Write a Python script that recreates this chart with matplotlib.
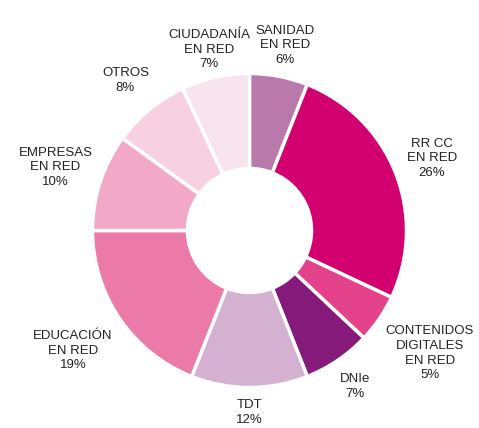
import numpy as np
import matplotlib.pyplot as plt

# data, clockwise from 12 o'clock
categories = ['SANIDAD\nEN RED', 'RR CC\nEN RED', 'CONTENIDOS\nDIGITALES\nEN RED', 'DNIe',
              'TDT', 'EDUCACIÓN\nEN RED', 'EMPRESAS\nEN RED', 'OTROS', 'CIUDADANÍA\nEN RED']
shares = [6, 26, 5, 7, 12, 19, 10, 8, 7]
colors = ['#b97aab', '#d3006f', '#e5428c', '#861a7b', '#d5b1d1',
          '#ec7aa8', '#f2a9c7', '#f7d1e2', '#f8e4ee']

# layout (pixels)
W, H = 479, 428
cx, cy = 249.5, H - 230.5
radius = 157
hole = 62
label_dist = [1.20, 1.25, 1.39, 1.20, 1.16, 1.36, 1.30, 1.24, 1.18]

plt.rcParams['font.family'] = ['Liberation Sans', 'DejaVu Sans']

fig = plt.figure(figsize=(W / 100, H / 100), dpi=100)
ax = fig.add_axes([0, 0, 1, 1])

wedges, _ = ax.pie(shares, colors=colors, startangle=90, counterclock=False,
                   center=(cx, cy), radius=radius,
                   wedgeprops=dict(width=radius - hole, edgecolor='white', linewidth=2.5))

# labels centred on each wedge's mid angle
total = sum(shares)
cum = np.cumsum([0] + shares[:-1])
for name, val, start, d in zip(categories, shares, cum, label_dist):
    mid = np.deg2rad(90 - (start + val / 2) / total * 360)
    x = cx + np.cos(mid) * radius * d
    y = cy + np.sin(mid) * radius * d
    ax.text(x, y, f'{name}\n{val}%', ha='center', va='center', fontsize=9.5,
            color='#222222', linespacing=1.3)

ax.set_xlim(0, W)
ax.set_ylim(0, H)
ax.set_aspect('equal')
ax.axis('off')

fig.savefig('out.png', dpi=100, facecolor='white')
